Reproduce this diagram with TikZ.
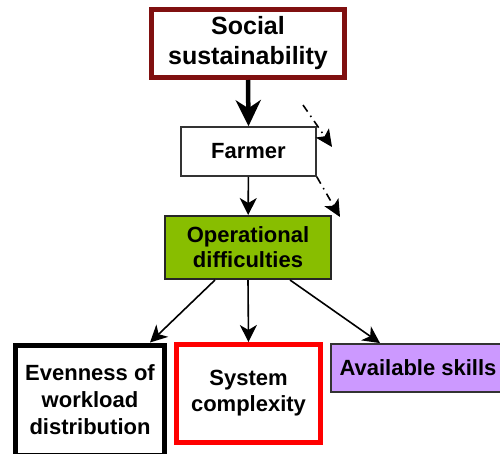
\documentclass[tikz,border=0pt]{standalone}
\usepackage{fontspec}
\setmainfont{Liberation Sans}
\usepackage{xcolor}
\usetikzlibrary{arrows.meta, positioning, calc}

\definecolor{socred}{RGB}{128,16,16}
\definecolor{opgreen}{RGB}{136,190,0}
\definecolor{skillpurple}{RGB}{204,153,255}

\begin{document}
\begin{tikzpicture}[
    x=1pt, y=-1pt,
    every node/.style={font=\bfseries\fontsize{22}{27}\selectfont, align=center, inner sep=0pt},
    social/.style={rectangle, draw=socred, line width=5pt, fill=white, minimum width=193pt, minimum height=68pt, font=\bfseries\fontsize{25}{30}\selectfont},
    plain/.style={rectangle, draw=black!80, line width=1.5pt, fill=white, minimum width=135pt, minimum height=49pt, font=\bfseries\fontsize{22}{25}\selectfont},
    opbox/.style={rectangle, draw=black!85, line width=2pt, fill=opgreen, minimum width=166pt, minimum height=63pt, font=\bfseries\fontsize{22}{25}\selectfont},
    heavy/.style={rectangle, draw=black, line width=5pt, fill=white, minimum width=149pt, minimum height=110pt},
    redbox/.style={rectangle, draw=red, line width=5pt, fill=white, minimum width=144pt, minimum height=98pt, font=\bfseries\fontsize{22}{26}\selectfont},
    skillbox/.style={rectangle, draw=black!80, line width=1.8pt, fill=skillpurple, minimum width=174pt, minimum height=48pt},
    arrow/.style={-{Stealth[length=17pt, width=17pt, inset=5pt]}, line width=1.6pt},
    bigarrow/.style={-{Stealth[length=26pt, width=25pt, inset=8pt]}, line width=4.5pt},
    ddarrow/.style={-{Stealth[length=17pt, width=16pt, inset=4pt]}, line width=1.6pt, dash pattern=on 8pt off 5pt on 1.5pt off 5pt}
]
\useasboundingbox (0,0) rectangle (500,453);

% Top
\node[social] (social) at (248,43.5) {Social\\sustainability};
\node[plain] (farmer) at (248.5,151.5) {Farmer};
\node[opbox] (op_diff) at (248,247.5) {Operational\\difficulties};

% Bottom row
\node[heavy] (evenness) at (90,400) {Evenness of\\workload\\distribution};
\node[redbox] (sys_comp) at (248.5,393.5) {System\\complexity};
\node[skillbox] (skills) at (418,368) {Available skills};

% Free ends of the dash-dot arrows
\coordinate (dd1_start) at (303,105);
\coordinate (dd1_end) at (332,147);
\coordinate (dd2_end) at (340,217);

% Arrows
\draw[bigarrow] (social.south) -- (farmer.north);
\draw[arrow] (farmer) -- (op_diff);
\draw[arrow] ([xshift=-33pt]op_diff.south) -- ([xshift=60pt]evenness.north);
\draw[arrow] (op_diff.south) -- (sys_comp.north);
\draw[arrow] ([xshift=42pt]op_diff.south) -- ([xshift=-38pt]skills.north);
\draw[ddarrow] (dd1_start) -- (dd1_end);
\draw[ddarrow] (farmer.south east) -- (dd2_end);

\end{tikzpicture}
\end{document}
